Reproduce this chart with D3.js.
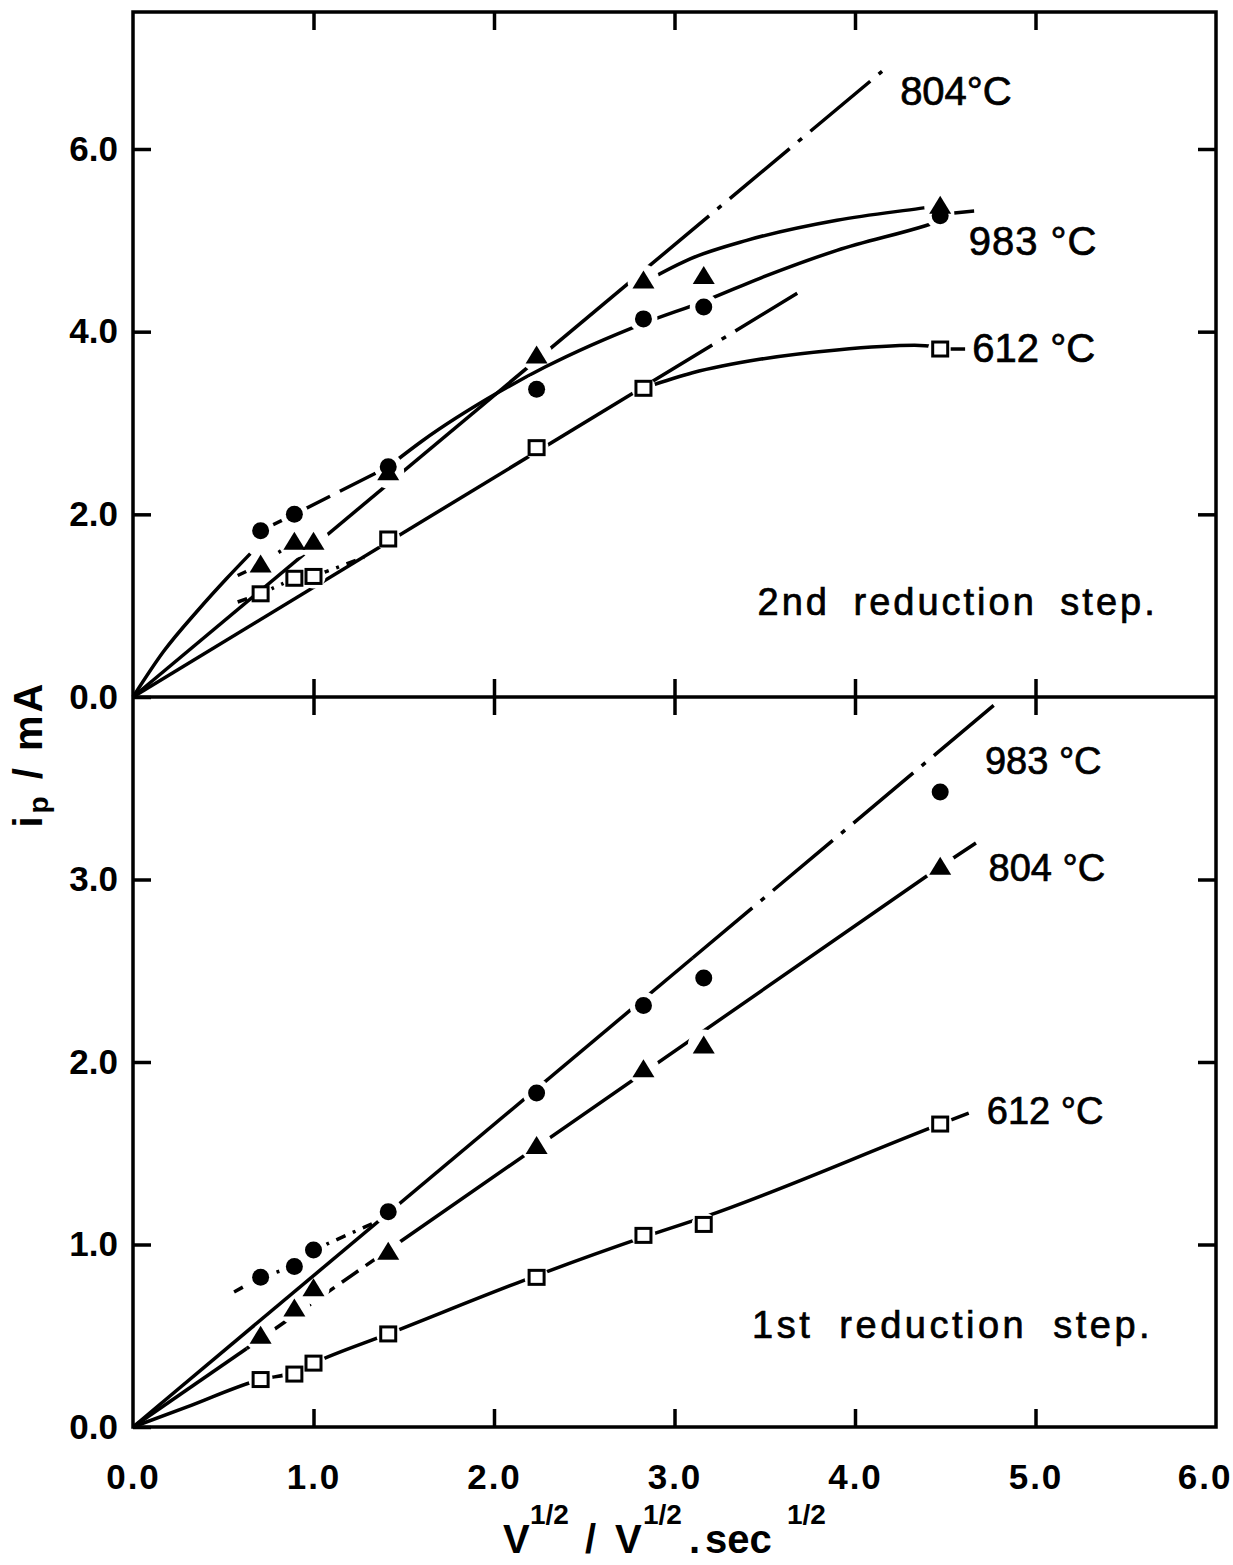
<!DOCTYPE html>
<html lang="en">
<head>
<meta charset="UTF-8">
<title>Peak current vs square root of scan rate</title>
<style>
  body { margin: 0; background: #fff; }
  svg { display: block; }
  .tick text { font-family: "Liberation Sans", Arial, sans-serif; font-weight: bold; font-size: 35px; fill: #000; }
  .tick line { stroke: #000; stroke-width: 3.5; }
  .ann { font-family: "Liberation Sans", Arial, sans-serif; fill: #000; }
</style>
</head>
<body>
<div id="chart"></div>
<script src="https://cdnjs.cloudflare.com/ajax/libs/d3/7.8.5/d3.min.js"></script>
<script>
// square root of scan rate, V^1/2 s^-1/2
var sqrtRate = [0.707, 0.894, 1.0, 1.414, 2.236, 2.828, 3.162, 4.472];

// 2nd reduction step, ip / mA (null = no point)
var up612 = [1.13, 1.30, 1.32, 1.73, 2.73, 3.38, null, 3.81];
var up804 = [1.45, 1.70, 1.70, 2.46, 3.74, 4.56, 4.61, 5.38];
var up983 = [1.82, 2.00, null, 2.52, 3.37, 4.14, 4.27, 5.27];

// 1st reduction step, ip / mA
var lo612 = [0.26, 0.29, 0.35, 0.51, 0.82, 1.05, 1.11, 1.66];
var lo804 = [0.50, 0.65, 0.76, 0.96, 1.54, 1.96, 2.09, 3.07];
var lo983 = [0.82, 0.88, 0.97, 1.18, 1.83, 2.31, 2.46, 3.48];

// hand drawn curves as [x, ip]
var up612Fit  = [[0, 0], [2.84, 3.41]];
var up612Ext  = [[2.84, 3.41], [3.68, 4.42]];
var up612Bend = [[2.84, 3.39], [3.1, 3.55], [3.48, 3.70], [3.9, 3.80], [4.33, 3.85], [4.47, 3.83]];
var up612Low  = [[0.58, 1.04], [0.707, 1.13], [0.894, 1.30], [1.0, 1.32], [1.28, 1.53]];
var up612Tail = [[4.53, 3.81], [4.61, 3.81]];

var up804Fit  = [[0, 0], [2.86, 4.72]];
var up804Ext  = [[2.86, 4.72], [4.15, 6.85]];
var up804Bend = [[2.85, 4.56], [3.09, 4.80], [3.4, 5.0], [3.9, 5.22], [4.36, 5.35], [4.47, 5.38]];
var up804Low  = [[0.58, 1.33], [0.707, 1.45], [0.894, 1.70], [1.0, 1.70]];
var up804Tail = [[4.55, 5.30], [4.66, 5.32]];

var up983Start = [[0, 0], [0.17, 0.50], [0.36, 0.95], [0.52, 1.30], [0.65, 1.57]];
var up983Low   = [[0.707, 1.82], [0.894, 2.0]];
var up983Dash  = [[0.894, 2.0], [1.414, 2.52]];
var up983Main  = [[1.414, 2.52], [1.6, 2.80], [2.02, 3.33], [2.28, 3.61], [2.84, 4.10], [3.16, 4.33],
                  [3.48, 4.59], [3.9, 4.89], [4.39, 5.16], [4.47, 5.21]];

var lo983Fit = [[0, 0], [3.1, 2.57]];
var lo983Ext = [[3.1, 2.57], [4.80, 3.98]];
var lo983Low = [[0.56, 0.74], [0.707, 0.82], [0.894, 0.88], [1.0, 0.97], [1.34, 1.12]];

var lo804Start = [[0, 0], [0.63, 0.43]];
var lo804Dash  = [[0.63, 0.43], [1.414, 0.97]];
var lo804Main  = [[1.414, 0.97], [4.472, 3.07], [4.67, 3.20]];

var lo612Line = [[0, 0], [0.3, 0.11], [0.707, 0.26], [0.894, 0.30], [1.0, 0.35], [1.414, 0.51],
                 [2.236, 0.83], [2.828, 1.04], [3.162, 1.15], [4.472, 1.66], [4.63, 1.72]];

// ticks and texts
var xTicks = [0, 1, 2, 3, 4, 5, 6];
var upTicks = [0, 2, 4, 6];
var loTicks = [0, 1, 2, 3];
var upTemps = ['804°C', '983 °C', '612 °C'];
var loTemps = ['983 °C', '804 °C', '612 °C'];
var stepNames = ['2nd reduction step.', '1st reduction step.'];

var W = 1233, H = 1565;
var DASHDOT = '78,11,5,11', DOTTED = '10,8,3,8', DASHED = '40,11', SHORT = '20,9';

var x = d3.scaleLinear().domain([0, 6]).range([133, 1216]);
var yUp = d3.scaleLinear().domain([0, 7.5]).range([697, 12]);
var yLo = d3.scaleLinear().domain([0, 4]).range([1427, 697]);

var svg = d3.select('#chart').append('svg').attr('width', W).attr('height', H);
var defs = svg.append('defs');

function pts(vals) {
    return sqrtRate.map(function (v, i) { return [v, vals[i]]; }).filter(function (d) { return d[1] != null; });
}

// masks cut the curves open round their own markers, as in the drawing
var gapR = { circle: 14, triangle: 16, square: 12 };
function addMask(id, vals, y, type) {
    var m = defs.append('mask').attr('id', id).attr('maskUnits', 'userSpaceOnUse')
        .attr('x', 0).attr('y', 0).attr('width', W).attr('height', H);
    m.append('rect').attr('width', W).attr('height', H).attr('fill', '#fff');
    m.selectAll('circle').data(pts(vals)).join('circle')
        .attr('cx', function (d) { return x(d[0]); })
        .attr('cy', function (d) { return y(d[1]); })
        .attr('r', gapR[type]).attr('fill', '#000');
}
addMask('m-up612', up612, yUp, 'square');
addMask('m-up804', up804, yUp, 'triangle');
addMask('m-up983', up983, yUp, 'circle');
addMask('m-lo612', lo612, yLo, 'square');
addMask('m-lo804', lo804, yLo, 'triangle');
addMask('m-lo983', lo983, yLo, 'circle');

// frame and axes
svg.append('rect').attr('x', x(0)).attr('y', yUp(7.5)).attr('width', x(6) - x(0)).attr('height', yLo(0) - yUp(7.5))
    .attr('fill', 'none').attr('stroke', '#000').attr('stroke-width', 3.5);
svg.append('line').attr('x1', x(0)).attr('x2', x(6)).attr('y1', yUp(0)).attr('y2', yUp(0))
    .attr('stroke', '#000').attr('stroke-width', 3.5);

var fmt = d3.format('.1f');
function axis(gen, tr) {
    var g = svg.append('g').attr('transform', tr).call(gen);
    g.select('.domain').remove();
    g.selectAll('text').attr('fill', '#000');
    return g;
}
axis(d3.axisLeft(yUp).tickValues(upTicks).tickSizeInner(-18).tickSizeOuter(0).tickPadding(15).tickFormat(fmt), 'translate(' + x(0) + ',0)');
axis(d3.axisLeft(yLo).tickValues(loTicks).tickSizeInner(-18).tickSizeOuter(0).tickPadding(15).tickFormat(fmt), 'translate(' + x(0) + ',0)');
axis(d3.axisRight(yUp).tickValues([2, 4, 6]).tickSizeInner(-18).tickSizeOuter(0).tickFormat(''), 'translate(' + x(6) + ',0)');
axis(d3.axisRight(yLo).tickValues([1, 2, 3]).tickSizeInner(-18).tickSizeOuter(0).tickFormat(''), 'translate(' + x(6) + ',0)');
axis(d3.axisTop(x).tickValues([1, 2, 3, 4, 5]).tickSizeInner(-18).tickSizeOuter(0).tickFormat(''), 'translate(0,' + yUp(7.5) + ')');
axis(d3.axisTop(x).tickValues([1, 2, 3, 4, 5]).tickSizeInner(18).tickSizeOuter(0).tickFormat(''), 'translate(0,' + yUp(0) + ')');
axis(d3.axisBottom(x).tickValues([1, 2, 3, 4, 5]).tickSizeInner(18).tickSizeOuter(0).tickFormat(''), 'translate(0,' + yUp(0) + ')');
var xa = axis(d3.axisBottom(x).tickValues(xTicks).tickSizeInner(-18).tickSizeOuter(0).tickPadding(62).tickFormat(fmt), 'translate(0,' + yLo(0) + ')');
xa.selectAll('text').attr('dy', 0).style('letter-spacing', '2px');
xa.selectAll('.tick').filter(function (d) { return d === 0 || d === 6; }).select('line').remove();
// the last label sits at the page edge: keep it whole
xa.selectAll('.tick').filter(function (d) { return d === 6; }).select('text')
    .attr('text-anchor', 'end').attr('x', W - 1 - x(6));

// curves
function drawLine(y, data, opt) {
    opt = opt || {};
    svg.append('path').datum(data)
        .attr('d', d3.line().x(function (d) { return x(d[0]); }).y(function (d) { return y(d[1]); })
            .curve(opt.curve || d3.curveLinear))
        .attr('fill', 'none').attr('stroke', '#000').attr('stroke-width', 3.5)
        .attr('stroke-dasharray', opt.dash || null)
        .attr('mask', opt.mask ? 'url(#' + opt.mask + ')' : null);
}
var smooth = d3.curveMonotoneX;

drawLine(yUp, up612Fit, { mask: 'm-up612' });
drawLine(yUp, up612Ext, { mask: 'm-up612', dash: DASHDOT });
drawLine(yUp, up612Bend, { mask: 'm-up612', curve: smooth });
drawLine(yUp, up612Low, { mask: 'm-up612', dash: DOTTED });
drawLine(yUp, up612Tail);
drawLine(yUp, up804Fit, { mask: 'm-up804' });
drawLine(yUp, up804Ext, { mask: 'm-up804', dash: DASHDOT });
drawLine(yUp, up804Bend, { mask: 'm-up804', curve: smooth });
drawLine(yUp, up804Low, { mask: 'm-up804', dash: DOTTED });
drawLine(yUp, up804Tail);
drawLine(yUp, up983Start, { mask: 'm-up983', curve: smooth });
drawLine(yUp, up983Low, { mask: 'm-up983' });
drawLine(yUp, up983Dash, { mask: 'm-up983', dash: DASHED });
drawLine(yUp, up983Main, { mask: 'm-up983', curve: smooth });

drawLine(yLo, lo983Fit, { mask: 'm-lo983' });
drawLine(yLo, lo983Ext, { mask: 'm-lo983', dash: DASHDOT });
drawLine(yLo, lo983Low, { mask: 'm-lo983', dash: DOTTED });
drawLine(yLo, lo804Start, { mask: 'm-lo804' });
drawLine(yLo, lo804Dash, { mask: 'm-lo804', dash: SHORT });
drawLine(yLo, lo804Main, { mask: 'm-lo804' });
drawLine(yLo, lo612Line, { mask: 'm-lo612', curve: smooth });

// markers
function markers(y, vals, type) {
    var g = svg.append('g');
    var sel = g.selectAll('.mk').data(pts(vals)).join(type === 'circle' ? 'circle' : type === 'square' ? 'rect' : 'path');
    if (type === 'circle') {
        sel.attr('cx', function (d) { return x(d[0]); }).attr('cy', function (d) { return y(d[1]); })
            .attr('r', 8.5).attr('fill', '#000');
    } else if (type === 'square') {
        sel.attr('x', function (d) { return x(d[0]) - 7.5; }).attr('y', function (d) { return y(d[1]) - 7; })
            .attr('width', 15).attr('height', 14).attr('fill', '#fff').attr('stroke', '#000').attr('stroke-width', 3);
    } else {
        sel.attr('d', 'M0,-10L11,8H-11Z').attr('fill', '#000')
            .attr('transform', function (d) { return 'translate(' + x(d[0]) + ',' + y(d[1]) + ')'; });
    }
}
markers(yUp, up983, 'circle');
markers(yUp, up804, 'triangle');
markers(yUp, up612, 'square');
markers(yLo, lo983, 'circle');
markers(yLo, lo804, 'triangle');
markers(yLo, lo612, 'square');

// annotations
function note(txt, px, py, size, extra) {
    var t = svg.append('text').attr('class', 'ann').attr('x', px).attr('y', py)
        .style('font-size', size + 'px').style('stroke', '#000').style('stroke-width', 0.7).text(txt);
    if (extra) t.style('letter-spacing', extra[0] + 'px').style('word-spacing', extra[1] + 'px');
    return t;
}
note(upTemps[0], x(4.25), yUp(6.48), 40);
note(upTemps[1], x(4.63), yUp(4.84), 40, [1, 0]);
note(upTemps[2], x(4.65), yUp(3.67), 40, [0, 0]);
note(stepNames[0], x(3.46), yUp(0.90), 38, [3, 10]);
note(loTemps[0], x(4.72), yLo(3.58), 38);
note(loTemps[1], x(4.74), yLo(2.99), 38);
note(loTemps[2], x(4.73), yLo(1.66), 38);
note(stepNames[1], x(3.43), yLo(0.49), 38, [3.5, 12]);

// axis titles
var yt = svg.append('text').attr('class', 'ann').attr('transform', 'translate(42,754) rotate(-90)')
    .attr('text-anchor', 'middle').style('font-size', '40px').style('font-weight', 'bold').style('letter-spacing', '3px');
yt.append('tspan').text('i');
yt.append('tspan').attr('dy', 6).style('font-size', '28px').text('p');
yt.append('tspan').attr('dy', -6).text(' / mA');

var xt = svg.append('text').attr('class', 'ann').style('font-weight', 'bold').style('font-size', '40px');
var base = 1553, sup = 1524;
xt.append('tspan').attr('x', 503).attr('y', base).text('V');
xt.append('tspan').attr('x', 530).attr('y', sup).style('font-size', '28px').text('1/2');
xt.append('tspan').attr('x', 585).attr('y', base).text('/');
xt.append('tspan').attr('x', 615).attr('y', base).text('V');
xt.append('tspan').attr('x', 643).attr('y', sup).style('font-size', '28px').text('1/2');
xt.append('tspan').attr('x', 689).attr('y', base).text('.');
xt.append('tspan').attr('x', 705).attr('y', base).text('sec');
xt.append('tspan').attr('x', 787).attr('y', sup).style('font-size', '28px').text('1/2');
</script>
</body>
</html>
